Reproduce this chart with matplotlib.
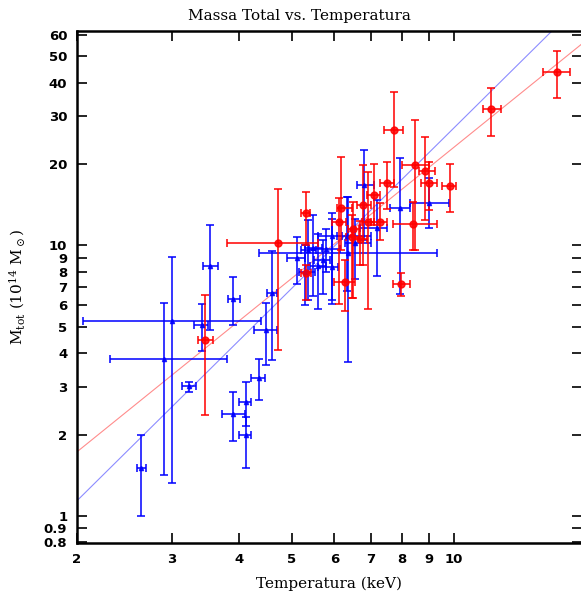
import matplotlib
matplotlib.use("Agg")
import matplotlib.pyplot as plt
import numpy as np

# ---- Data: red sample (T, M, T_lo, T_hi, M_lo, M_hi) ----
red_T   = [15.5, 11.7, 7.74, 8.47, 8.84, 9.0, 9.82, 8.40, 7.96, 7.50, 7.10, 6.17,
           6.79, 6.12, 6.92, 7.28, 5.31, 6.50, 6.48, 6.70, 6.28, 5.31, 4.71, 3.45]
red_M   = [43.9, 31.8, 26.6, 19.8, 18.8, 17.0, 16.6, 12.0, 7.2, 17.0, 15.4, 13.7,
           14.05, 12.2, 12.25, 12.25, 13.2, 11.5, 10.7, 10.6, 7.3, 7.9, 10.2, 4.49]
red_Tlo = [14.6, 11.3, 7.4, 8.0, 8.6, 8.7, 9.5, 7.7, 7.7, 7.3, 6.9, 6.06,
           6.6, 5.95, 6.75, 7.0, 5.2, 6.35, 6.3, 6.5, 6.0, 5.2, 3.8, 3.35]
red_Thi = [16.4, 12.2, 8.05, 9.0, 9.2, 9.3, 10.1, 9.3, 8.3, 7.74, 7.3, 6.48,
           7.0, 6.3, 7.1, 7.5, 5.4, 6.65, 6.65, 6.9, 6.55, 5.42, 5.6, 3.58]
red_Mlo = [35.2, 25.4, 16.4, 9.6, 12.4, 13.5, 13.3, 9.6, 6.5, 13.6, 11.9, 9.6,
           8.5, 6.1, 5.8, 10.5, 10.0, 6.4, 6.4, 8.5, 5.7, 6.3, 4.1, 2.36]
red_Mhi = [52.5, 38.2, 36.8, 29.1, 25.1, 20.3, 20.0, 14.5, 7.9, 20.4, 20.0, 21.2,
           19.8, 15.0, 18.7, 14.4, 15.7, 14.5, 13.0, 12.3, 8.8, 8.5, 16.2, 6.58]

# ---- Data: blue sample ----
blue_T   = [2.63, 2.90, 3.00, 3.22, 3.41, 3.53, 3.90, 3.90, 4.11, 4.11, 4.35, 4.48,
            4.59, 6.35, 6.82, 7.94, 9.0, 7.19, 5.93, 6.34, 5.37, 5.11, 5.48, 5.59,
            5.93, 5.72, 6.55, 5.80, 5.30]
blue_M   = [1.50, 3.79, 5.24, 3.02, 5.07, 8.39, 6.36, 2.39, 2.64, 2.00, 3.23, 4.89,
            6.69, 9.4, 16.75, 13.7, 14.4, 11.6, 10.85, 10.85, 9.6, 9.0, 9.8, 8.37,
            8.33, 8.8, 10.2, 9.74, 7.95]
blue_Tlo = [2.58, 2.30, 2.05, 3.13, 3.30, 3.42, 3.81, 3.71, 4.00, 4.00, 4.20, 4.26,
            4.50, 4.35, 6.60, 7.60, 8.3, 6.70, 5.60, 6.06, 5.20, 4.90, 5.30, 5.40,
            5.60, 5.50, 6.27, 5.38, 5.15]
blue_Thi = [2.68, 3.80, 4.38, 3.33, 3.50, 3.65, 4.01, 4.10, 4.20, 4.20, 4.47, 4.70,
            4.70, 9.30, 7.10, 8.30, 9.8, 7.50, 6.20, 7.00, 5.55, 5.30, 5.70, 5.80,
            6.10, 5.90, 7.00, 6.15, 5.53]
blue_Mlo = [1.00, 1.42, 1.32, 2.87, 4.06, 4.86, 5.06, 1.89, 2.15, 1.50, 2.68, 3.63,
            3.76, 3.7, 10.5, 6.6, 11.6, 7.7, 6.1, 6.8, 6.27, 7.2, 6.5, 5.8,
            6.27, 6.6, 7.5, 8.0, 6.0]
blue_Mhi = [2.00, 6.15, 9.10, 3.13, 6.10, 11.9, 7.64, 2.87, 3.13, 2.33, 3.79, 6.15,
            9.50, 15.1, 22.5, 21.0, 17.8, 14.7, 13.2, 15.1, 12.4, 10.7, 13.0, 11.0,
            12.5, 10.5, 12.5, 11.5, 10.0]

# ---- Fit lines: M = A * (T/2)^B ----
red_fit  = (1.727, 1.611)
blue_fit = (1.139, 1.972)

x_ticks = [2, 3, 4, 5, 6, 7, 8, 9, 10]
y_ticks = [0.8, 0.9, 1, 2, 3, 4, 5, 6, 7, 8, 9, 10, 20, 30, 40, 50, 60]
y_tick_labels = ["0.8", "0.9", "1", "2", "3", "4", "5", "6", "7", "8", "9", "10",
                 "20", "30", "40", "50", "60"]

plt.rcParams['mathtext.fontset'] = 'dejavuserif'

fig = plt.figure(figsize=(5.81, 5.94), dpi=100)
ax = fig.add_axes([77/581, 1-543/594, (582-77)/581, (543-31)/594])
ax.set_xscale('log')
ax.set_yscale('log')
xlim = (2.0, 17.26)
ylim = (0.795, 62.0)

tt = np.array(xlim)
for (A, B), c in [(red_fit, 'red'), (blue_fit, 'blue')]:
    ax.plot(tt, A * (tt / 2.0) ** B, color=c, lw=0.8, alpha=0.45, zorder=1)

def draw(T, M, Tlo, Thi, Mlo, Mhi, color, marker, ms):
    T = np.array(T); M = np.array(M)
    xerr = [T - np.array(Tlo), np.array(Thi) - T]
    yerr = [M - np.array(Mlo), np.array(Mhi) - M]
    ax.errorbar(T, M, xerr=xerr, yerr=yerr, fmt=marker, color=color, ms=ms,
                ecolor=color, elinewidth=1.3, capsize=3, capthick=1.3,
                alpha=0.85, zorder=3)

draw(blue_T, blue_M, blue_Tlo, blue_Thi, blue_Mlo, blue_Mhi, 'blue', '^', 3)
draw(red_T, red_M, red_Tlo, red_Thi, red_Mlo, red_Mhi, 'red', 'o', 5)

ax.set_xlim(*xlim)
ax.set_ylim(*ylim)
ax.xaxis.set_minor_locator(matplotlib.ticker.NullLocator())
ax.yaxis.set_minor_locator(matplotlib.ticker.NullLocator())
ax.set_xticks(x_ticks)
ax.set_xticklabels([str(v) for v in x_ticks])
ax.set_yticks(y_ticks)
ax.set_yticklabels(y_tick_labels)
ax.tick_params(direction='in', length=7, width=1.2, top=True, right=True,
               labelsize=9.5, pad=7)
for lab in ax.get_xticklabels() + ax.get_yticklabels():
    lab.set_fontweight('bold')
for s in ax.spines.values():
    s.set_linewidth(1.8)

fig.text(299/581, 1-16/594, "Massa Total vs. Temperatura", family='DejaVu Serif',
         fontsize=11, ha='center', va='center')
ax.set_xlabel("Temperatura (keV)", family='DejaVu Serif', fontsize=11, labelpad=8)
ax.set_ylabel(r"M$_{\rm tot}$ (10$^{14}$ M$_\odot$)", family='DejaVu Serif',
              fontsize=11, labelpad=12)

fig.savefig("out.png", dpi=100)
